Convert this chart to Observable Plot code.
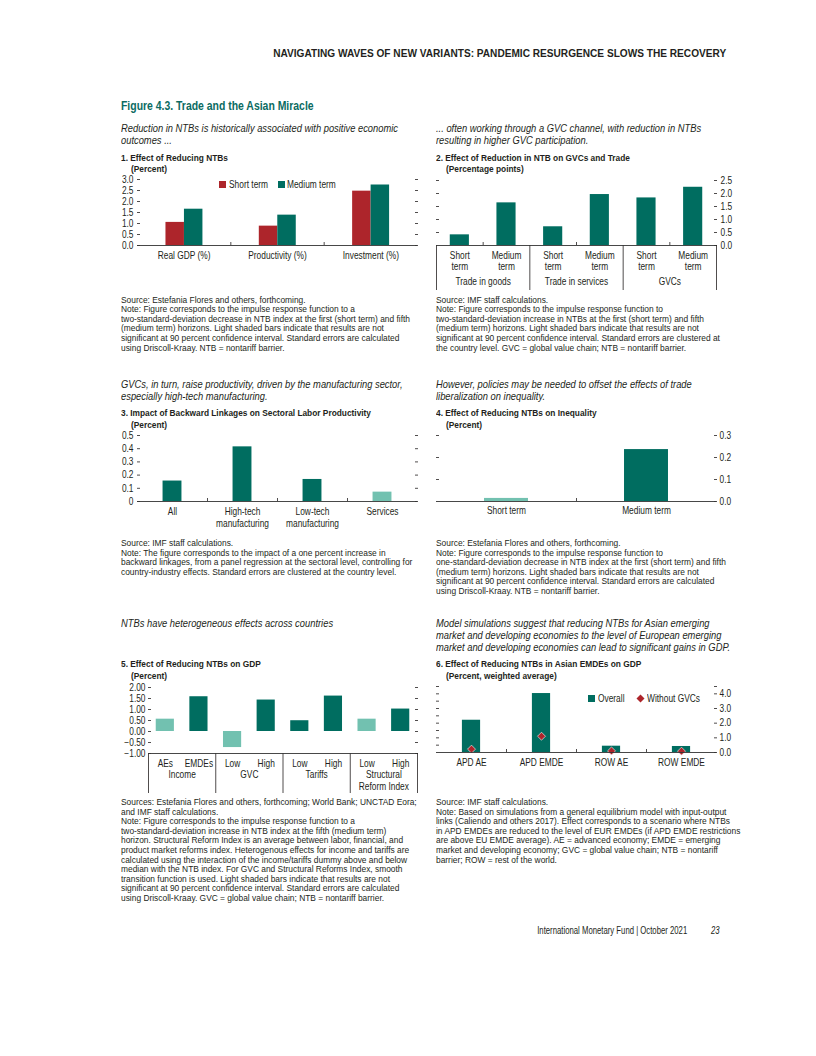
<!DOCTYPE html>
<html><head><meta charset="utf-8">
<script src="https://cdn.jsdelivr.net/npm/d3@7"></script>
<script src="https://cdn.jsdelivr.net/npm/@observablehq/plot@0.6"></script>
<style>
html,body{margin:0;padding:0;background:#fff;}
#page{position:relative;width:816px;height:1056px;overflow:hidden;background:#fff;
 font-family:"Liberation Sans",Arial,sans-serif;color:#231f20;}
.t{position:absolute;white-space:nowrap;}
.sq{position:absolute;width:7px;height:7px;}
</style></head>
<body><div id="page"></div>
<script>
// ---------------- DATA ----------------
const p1Categories = ["Real GDP (%)", "Productivity (%)", "Investment (%)"];
const p1Short = [1.05, 0.88, 2.47];
const p1Medium = [1.65, 1.38, 2.75];
const p1Ticks = [0, 0.5, 1, 1.5, 2, 2.5, 3];

const p2Groups = ["Trade in goods", "Trade in services", "GVCs"];
const p2Terms = ["Short\nterm", "Medium\nterm", "Short\nterm", "Medium\nterm", "Short\nterm", "Medium\nterm"];
const p2Values = [0.41, 1.64, 0.72, 1.96, 1.83, 2.24];
const p2Ticks = [0, 0.5, 1, 1.5, 2, 2.5];

const p3Categories = ["All", "High-tech\nmanufacturing", "Low-tech\nmanufacturing", "Services"];
const p3Values = [0.155, 0.414, 0.167, 0.071];
const p3Significant = [true, true, true, false];
const p3Ticks = [0, 0.1, 0.2, 0.3, 0.4, 0.5];

const p4Categories = ["Short term", "Medium term"];
const p4Values = [0.014, 0.236];
const p4Significant = [false, true];
const p4Ticks = [0, 0.1, 0.2, 0.3];

const p5Groups = ["Income", "GVC", "Tariffs", "Structural\nReform Index"];
const p5Labels = ["AEs", "EMDEs", "Low", "High", "Low", "High", "Low", "High"];
const p5Values = [0.56, 1.58, -0.73, 1.43, 0.49, 1.61, 0.56, 1.02];
const p5Significant = [false, true, false, true, true, true, false, true];
const p5Ticks = [-1, -0.5, 0, 0.5, 1, 1.5, 2];

const p6Categories = ["APD AE", "APD EMDE", "ROW AE", "ROW EMDE"];
const p6Overall = [2.2, 4.02, 0.43, 0.41];
const p6WithoutGVCs = [0.23, 1.11, 0.11, 0.09];
const p6Labeled = [0, 1, 2, 3, 4];
const p6MinorTicks = [0.5, 1, 1.5, 2, 2.5, 3, 3.5, 4, 4.5];

// ---------------- TEXT ----------------
const header = "NAVIGATING WAVES OF NEW VARIANTS: PANDEMIC RESURGENCE SLOWS THE RECOVERY";
const figTitle = "Figure 4.3. Trade and the Asian Miracle";
const sub1 = ["Reduction in NTBs is historically associated with positive economic", "outcomes ..."];
const sub2 = ["... often working through a GVC channel, with reduction in NTBs", "resulting in higher GVC participation."];
const sub3 = ["GVCs, in turn, raise productivity, driven by the manufacturing sector,", "especially high-tech manufacturing."];
const sub4 = ["However, policies may be needed to offset the effects of trade", "liberalization on inequality."];
const sub5 = ["NTBs have heterogeneous effects across countries"];
const sub6 = ["Model simulations suggest that reducing NTBs for Asian emerging", "market and developing economies to the level of European emerging", "market and developing economies can lead to significant gains in GDP."];
const t1 = ["1. Effect of Reducing NTBs", "(Percent)"];
const t2 = ["2. Effect of Reduction in NTB on GVCs and Trade", "(Percentage points)"];
const t3 = ["3. Impact of Backward Linkages on Sectoral Labor Productivity", "(Percent)"];
const t4 = ["4. Effect of Reducing NTBs on Inequality", "(Percent)"];
const t5 = ["5. Effect of Reducing NTBs on GDP", "(Percent)"];
const t6 = ["6. Effect of Reducing NTBs in Asian EMDEs on GDP", "(Percent, weighted average)"];
const n1 = ["Source: Estefania Flores and others, forthcoming.",
 "Note: Figure corresponds to the impulse response function to a",
 "two-standard-deviation decrease in NTB index at the first (short term) and fifth",
 "(medium term) horizons. Light shaded bars indicate that results are not",
 "significant at 90 percent confidence interval. Standard errors are calculated",
 "using Driscoll-Kraay. NTB = nontariff barrier."];
const n2 = ["Source: IMF staff calculations.",
 "Note: Figure corresponds to the impulse response function to",
 "two-standard-deviation increase in NTBs at the first (short term) and fifth",
 "(medium term) horizons. Light shaded bars indicate that results are not",
 "significant at 90 percent confidence interval. Standard errors are clustered at",
 "the country level. GVC = global value chain; NTB = nontariff barrier."];
const n3 = ["Source: IMF staff calculations.",
 "Note: The figure corresponds to the impact of a one percent increase in",
 "backward linkages, from a panel regression at the sectoral level, controlling for",
 "country-industry effects. Standard errors are clustered at the country level."];
const n4 = ["Source: Estefania Flores and others, forthcoming.",
 "Note: Figure corresponds to the impulse response function to",
 "one-standard-deviation decrease in NTB index at the first (short term) and fifth",
 "(medium term) horizons. Light shaded bars indicate that results are not",
 "significant at 90 percent confidence interval. Standard errors are calculated",
 "using Driscoll-Kraay. NTB = nontariff barrier."];
const n5 = ["Sources: Estefania Flores and others, forthcoming; World Bank; UNCTAD Eora;",
 "and IMF staff calculations.",
 "Note: Figure corresponds to the impulse response function to a",
 "two-standard-deviation increase in NTB index at the fifth (medium term)",
 "horizon. Structural Reform Index is an average between labor, financial, and",
 "product market reforms index. Heterogenous effects for income and tariffs are",
 "calculated using the interaction of the income/tariffs dummy above and below",
 "median with the NTB index. For GVC and Structural Reforms Index, smooth",
 "transition function is used. Light shaded bars indicate that results are not",
 "significant at 90 percent confidence interval. Standard errors are calculated",
 "using Driscoll-Kraay. GVC = global value chain; NTB = nontariff barrier."];
const n6 = ["Source: IMF staff calculations.",
 "Note: Based on simulations from a general equilibrium model with input-output",
 "links (Caliendo and others 2017). Effect corresponds to a scenario where NTBs",
 "in APD EMDEs are reduced to the level of EUR EMDEs (if APD EMDE restrictions",
 "are above EU EMDE average). AE = advanced economy; EMDE = emerging",
 "market and developing economy; GVC = global value chain; NTB = nontariff",
 "barrier; ROW = rest of the world."];
const footer = "International Monetary Fund | October 2021";

// ---------------- STYLE ----------------
const FAMILY = '"Liberation Sans", Arial, sans-serif';
const RED = "#ad252b", TEAL = "#006d60", LIGHT = "#72c1b0", INK = "#231f20", TEALTXT = "#0b6b62";
const page = document.getElementById("page");

// condensed look: a regular sans squeezed horizontally to the reference's measured line widths
const ctx = document.createElement("canvas").getContext("2d");
function fitStyle(s) {
  ctx.font = `${s.italic ? "italic " : ""}${s.bold ? "bold " : ""}${s.size}px ${FAMILY}`;
  return {...s, k: s.target / ctx.measureText(s.sample).width};
}
const S = {
  header: fitStyle({size: 10, bold: true, sample: header, target: 453}),
  fig: fitStyle({size: 12.5, bold: true, sample: figTitle, target: 193}),
  sub: fitStyle({size: 10.8, italic: true, sample: sub1[0], target: 277}),
  title: fitStyle({size: 9.8, bold: true, sample: t3[0], target: 250}),
  note: fitStyle({size: 9.3, sample: n1[2], target: 289}),
  tick: fitStyle({size: 10, sample: "manufacturing", target: 53}),
  foot: fitStyle({size: 11, sample: footer, target: 150})
};

function txt(s, x, y, st, o = {}) {
  const d = document.createElement("div");
  d.className = "t";
  d.textContent = s;
  const lh = Math.round(st.size * 1.3);
  Object.assign(d.style, {top: (y - lh / 2) + "px", fontSize: st.size + "px", lineHeight: lh + "px",
    fontWeight: st.bold ? "bold" : "normal", fontStyle: (st.italic || o.italic) ? "italic" : "normal",
    color: o.color || INK, transform: `scaleX(${st.k})`, transformOrigin: o.right ? "right center" : "left center"});
  if (o.right) d.style.right = (816 - x) + "px"; else d.style.left = x + "px";
  page.appendChild(d);
  return d;
}
function block(arr, x, y0, step, st, o = {}) { arr.forEach((s, i) => txt(s, x, y0 + i * step, st, o)); }
function title(arr, x, y0) { txt(arr[0], x, y0, S.title); txt(arr[1], x + 10, y0 + 11.5, S.title); }
function sq(x, y, color) {
  const d = document.createElement("div"); d.className = "sq";
  Object.assign(d.style, {left: x + "px", top: (y - 3.5) + "px", background: color});
  page.appendChild(d);
}

function chart({left, right, top, bottom, ml, mr, mt, mb, xDomain, yDomain, marks}) {
  const w = right - left, h = bottom - top;
  const svg = Plot.plot({
    width: ml + w + mr, height: mt + h + mb,
    marginLeft: ml, marginRight: mr, marginTop: mt, marginBottom: mb,
    x: {domain: xDomain}, y: {domain: yDomain},
    style: {fontFamily: FAMILY, fontSize: S.tick.size + "px", color: INK, background: "transparent", overflow: "visible"},
    marks
  });
  svg.style.position = "absolute";
  svg.style.left = (left - ml) + "px";
  svg.style.top = (top - mt) + "px";
  // squeeze every label around its own anchor point
  svg.querySelectorAll("text").forEach(t => {
    const tr = t.getAttribute("transform") || "";
    t.setAttribute("transform", `${tr} scale(${S.tick.k},1)`);
  });
  page.appendChild(svg);
}
const yAx = (anchor, ticks, fmt, pad = 7) => Plot.axisY(ticks, {anchor, tickSize: -3, tickPadding: pad, tickFormat: fmt, label: null, strokeWidth: 0.8});
const yTicks = (anchor, ticks) => Plot.axisY(ticks, {anchor, tickSize: -3, tickFormat: () => "", label: null, strokeWidth: 0.8});
const xLab = (ticks, fmt, pad, lh = 1.1) => Plot.axisX(ticks, {tickSize: 0, tickPadding: pad, tickFormat: fmt, label: null, lineHeight: lh});
const xTicks = (ticks, size) => Plot.axisX(ticks, {tickSize: size, tickFormat: () => "", label: null, strokeWidth: 0.8});
const base = (v) => Plot.ruleY([v], {stroke: "#333", strokeWidth: 0.9});
const f1 = d3.format(".1f"), f2 = d3.format(".2f");

// ---------------- PAGE TEXT ----------------
txt(header, 726, 53, S.header, {right: true});
txt(figTitle, 121, 106, S.fig, {color: TEALTXT});
block(sub1, 121, 128, 12.3, S.sub);
block(sub2, 436, 128, 12.3, S.sub);
title(t1, 121, 157); title(t2, 436, 157);
block(n1, 121, 299.5, 9.6, S.note); block(n2, 436, 299.5, 9.6, S.note);
block(sub3, 121, 384, 12.3, S.sub);
block(sub4, 436, 384, 12.3, S.sub);
title(t3, 121, 412.5); title(t4, 436, 412.5);
block(n3, 121, 543, 9.6, S.note); block(n4, 436, 543, 9.6, S.note);
block(sub5, 121, 622.5, 12.3, S.sub);
block(sub6, 436, 622.5, 12.3, S.sub);
title(t5, 121, 663.5); title(t6, 436, 663.5);
block(n5, 121, 802, 9.6, S.note); block(n6, 436, 802, 9.6, S.note);
txt(footer, 687, 930, S.foot, {right: true});
txt("23", 711, 930, S.foot, {italic: true});

// legends
sq(219, 184.7, RED); txt("Short term", 229, 184.7, S.tick);
sq(278, 184.7, TEAL); txt("Medium term", 287, 184.7, S.tick);
sq(588, 698.7, TEAL); txt("Overall", 598, 698.7, S.tick);
const dia = document.createElementNS("http://www.w3.org/2000/svg", "svg");
dia.setAttribute("width", 9); dia.setAttribute("height", 9);
dia.style.position = "absolute"; dia.style.left = "635.5px"; dia.style.top = "694.2px";
dia.innerHTML = `<path d="M4.5,0.5L8.5,4.5L4.5,8.5L0.5,4.5Z" fill="${RED}"/>`;
page.appendChild(dia);
txt("Without GVCs", 647, 698.7, S.tick);

// ---------------- CHART 1 ----------------
const p1Rows = p1Categories.map((c, i) => ({i, s: p1Short[i], m: p1Medium[i]}));
chart({left: 137, right: 417, top: 179.3, bottom: 245.3, ml: 24, mr: 8, mt: 8, mb: 24,
  xDomain: [0, 3], yDomain: [0, 3],
  marks: [
    Plot.rectY(p1Rows, {x1: d => d.i + 0.305, x2: d => d.i + 0.503, y1: 0, y2: "s", fill: RED}),
    Plot.rectY(p1Rows, {x1: d => d.i + 0.503, x2: d => d.i + 0.701, y1: 0, y2: "m", fill: TEAL}),
    yAx("left", p1Ticks, f1), yTicks("right", p1Ticks),
    xLab(p1Categories.map((c, i) => i + 0.5), v => p1Categories[Math.floor(v)], 5.5),
    xTicks([1, 2], -3), base(0)
  ]});

// ---------------- CHART 2 ----------------
const p2Rows = p2Values.map((v, j) => ({j, v}));
chart({left: 436, right: 716, top: 180, bottom: 245, ml: 8, mr: 26, mt: 8, mb: 50,
  xDomain: [0, 6], yDomain: [0, 2.5],
  marks: [
    Plot.rectY(p2Rows, {x1: d => d.j + 0.295, x2: d => d.j + 0.705, y1: 0, y2: "v", fill: TEAL}),
    yTicks("left", p2Ticks.slice(1)), yAx("right", p2Ticks, f1),
    xLab(p2Terms.map((c, j) => j + 0.5), v => p2Terms[Math.floor(v)], 6.5, 1.05),
    xLab([1, 3, 5], v => p2Groups[(v - 1) / 2], 31.5),
    xTicks([1, 3, 5], -3), xTicks([0, 2, 4, 6], 45), base(0)
  ]});

// ---------------- CHART 3 ----------------
const p3Rows = p3Values.map((v, i) => ({i, v, sig: p3Significant[i]}));
chart({left: 137, right: 417, top: 434.7, bottom: 500.7, ml: 24, mr: 8, mt: 8, mb: 34,
  xDomain: [0, 4], yDomain: [0, 0.5],
  marks: [
    Plot.rectY(p3Rows, {x1: d => d.i + 0.365, x2: d => d.i + 0.635, y1: 0, y2: "v", fill: d => d.sig ? TEAL : LIGHT}),
    yAx("left", p3Ticks, v => v === 0 ? "0" : f1(v)), yTicks("right", p3Ticks),
    xLab(p3Categories.map((c, i) => i + 0.5), v => p3Categories[Math.floor(v)], 5.5, 1.15),
    xTicks([1, 2, 3], -3), base(0)
  ]});

// ---------------- CHART 4 ----------------
const p4Rows = p4Values.map((v, i) => ({i, v, sig: p4Significant[i]}));
chart({left: 436, right: 716, top: 435, bottom: 501, ml: 8, mr: 26, mt: 8, mb: 24,
  xDomain: [0, 2], yDomain: [0, 0.3],
  marks: [
    Plot.rectY(p4Rows, {x1: d => d.i + 0.343, x2: d => d.i + 0.657, y1: 0, y2: "v", fill: d => d.sig ? TEAL : LIGHT}),
    yTicks("left", p4Ticks.slice(1)), yAx("right", p4Ticks, f1, 6),
    xLab([0.5, 1.5], v => p4Categories[Math.floor(v)], 5),
    xTicks([1], -3), base(0)
  ]});

// ---------------- CHART 5 ----------------
const p5Rows = p5Values.map((v, j) => ({j, v, sig: p5Significant[j]}));
chart({left: 148, right: 417, top: 686.7, bottom: 752.7, ml: 30, mr: 8, mt: 8, mb: 46,
  xDomain: [0, 8], yDomain: [-1, 2],
  marks: [
    Plot.rectY(p5Rows, {x1: d => d.j + 0.23, x2: d => d.j + 0.77, y1: 0, y2: "v", fill: d => d.sig ? TEAL : LIGHT}),
    yAx("left", p5Ticks, f2, 6), yTicks("right", p5Ticks),
    xLab(p5Labels.map((c, j) => j + 0.5), v => p5Labels[Math.floor(v)], 5.5),
    xLab([1, 3, 5, 7], v => p5Groups[(v - 1) / 2], 17, 1.12),
    xTicks([0, 2, 4, 6, 8], 40), base(-1)
  ]});

// ---------------- CHART 6 ----------------
const p6Rows = p6Overall.map((v, i) => ({i, v, w: p6WithoutGVCs[i]}));
chart({left: 436, right: 716, top: 686.3, bottom: 752.3, ml: 8, mr: 26, mt: 8, mb: 24,
  xDomain: [0, 4], yDomain: [0, 4.5],
  marks: [
    Plot.rectY(p6Rows, {x1: d => d.i + 0.37, x2: d => d.i + 0.63, y1: 0, y2: "v", fill: TEAL}),
    Plot.dot(p6Rows, {x: d => d.i + 0.5, y: "w", symbol: "diamond2", r: 3.6, fill: RED, stroke: "#fff", strokeWidth: 0.6}),
    yTicks("left", p6MinorTicks), yAx("right", p6Labeled, f1, 6), yTicks("right", [4.5]),
    xLab(p6Categories.map((c, i) => i + 0.5), v => p6Categories[Math.floor(v)], 5.5),
    xTicks([1, 2, 3], -3), base(0)
  ]});
</script>
</body></html>
